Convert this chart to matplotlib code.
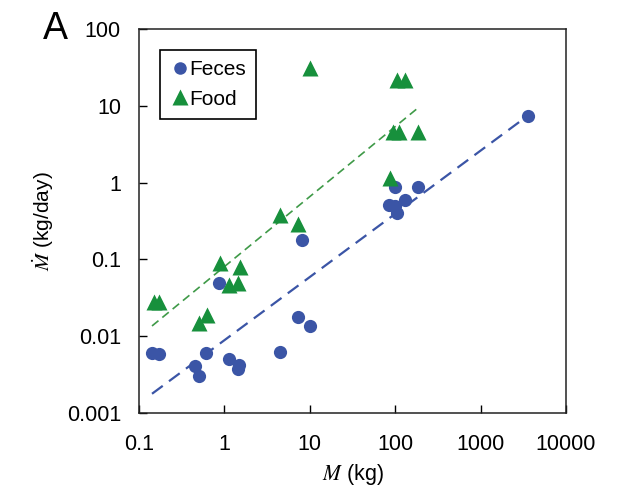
#!/usr/bin/env python

import matplotlib.pyplot as plt
from matplotlib.ticker import FixedLocator, NullLocator

plt.rcParams["font.family"] = ["Liberation Sans", "DejaVu Sans"]
plt.rcParams["mathtext.fontset"] = "stix"

# body mass (kg) and mass flow (kg/day)
feces_mass = [0.142, 0.17, 0.45, 0.5, 0.61, 1.13, 1.45, 1.5, 0.87, 4.5, 7.2, 10,
              8, 100, 183, 85, 105, 130, 100, 3550]
feces_rate = [0.006, 0.0058, 0.0041, 0.003, 0.006, 0.005, 0.0037, 0.0042, 0.05,
              0.0063, 0.018, 0.0135, 0.18, 0.88, 0.88, 0.51, 0.4, 0.6, 0.5, 7.4]

food_mass = [10, 105, 130, 95, 110, 183, 88, 4.5, 7.2, 0.89, 1.53, 1.14, 1.45,
             0.15, 0.17, 0.5, 0.63]
food_rate = [31, 22, 22, 4.6, 4.6, 4.6, 1.15, 0.38, 0.29, 0.09, 0.08, 0.047,
             0.049, 0.028, 0.028, 0.015, 0.019]

# end points of the dashed power-law fits
feces_fit_mass = [0.142, 3550]
feces_fit_rate = [0.00178, 7.4]
food_fit_mass = [0.142, 183]
food_fit_rate = [0.0136, 9.3]

x_ticks = [0.1, 1, 10, 100, 1000, 10000]
x_labels = ["0.1", "1", "10", "100", "1000", "10000"]
y_ticks = [0.001, 0.01, 0.1, 1, 10, 100]
y_labels = ["0.001", "0.01", "0.1", "1", "10", "100"]

BLUE = "#3b55a6"
GREEN = "#17903c"


def main():
    fig = plt.figure(figsize=(6.17, 4.97), dpi=100)
    ax = fig.add_axes([0.2253, 0.169, 0.692, 0.7726])

    ax.plot(feces_fit_mass, feces_fit_rate, ls=(0, (6, 3.5)), color=BLUE, lw=1.6)
    ax.plot(food_fit_mass, food_fit_rate, ls=(0, (5, 3)), color="#3f9a48", lw=1.2)

    ax.plot(feces_mass, feces_rate, "o", ms=9.5, color=BLUE, mec="none",
            label="Feces")
    ax.plot(food_mass, food_rate, "^", ms=11.5, color=GREEN, mec="none",
            label="Food")

    ax.set_xscale("log")
    ax.set_yscale("log")
    ax.set_xlim(0.1, 10000)
    ax.set_ylim(0.001, 100)

    ax.xaxis.set_major_locator(FixedLocator(x_ticks))
    ax.yaxis.set_major_locator(FixedLocator(y_ticks))
    ax.xaxis.set_minor_locator(NullLocator())
    ax.yaxis.set_minor_locator(NullLocator())
    ax.set_xticklabels(x_labels)
    ax.set_yticklabels(y_labels)
    ax.tick_params(axis="x", direction="in", length=6, width=1, labelsize=15.5,
                   pad=15)
    ax.tick_params(axis="y", direction="in", length=6, width=1, labelsize=15.5,
                   pad=13)
    for s in ax.spines.values():
        s.set_linewidth(1.1)
        s.set_color("#222222")

    ax.set_xlabel(r"$M$ (kg)", fontsize=15.5, labelpad=5)
    ax.set_ylabel(r"$\dot{M}$ (kg/day)", fontsize=15, labelpad=8)

    leg = ax.legend(loc="upper left", bbox_to_anchor=(0.049, 0.946),
                    borderaxespad=0, fontsize=15, fancybox=False, framealpha=1,
                    edgecolor="black", handletextpad=0.0, handlelength=0.9,
                    borderpad=0.5, labelspacing=0.5, markerscale=0.95)
    leg.get_frame().set_linewidth(1.2)

    fig.text(0.069, 0.922, "A", fontsize=27)

    plt.savefig("out.png", dpi=100)


if __name__ == "__main__":
    main()
